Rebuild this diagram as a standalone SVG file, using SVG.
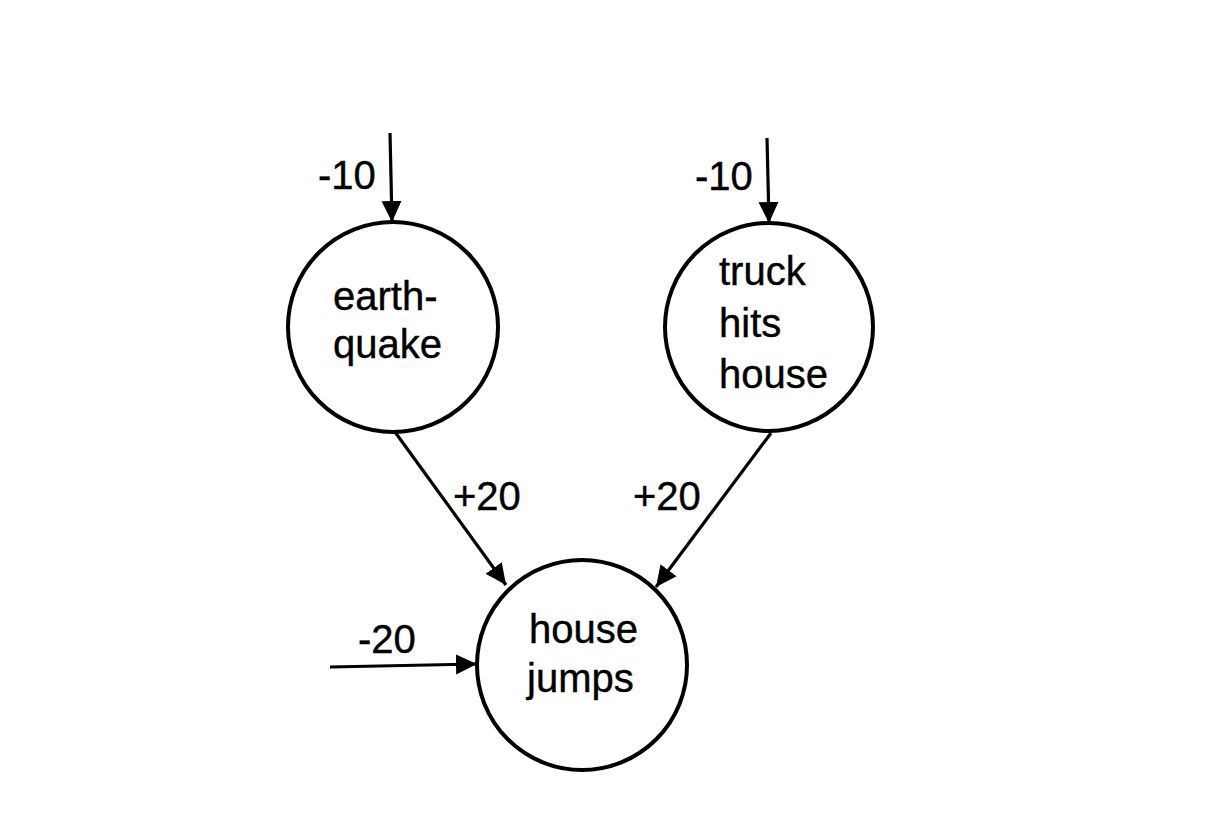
<svg xmlns="http://www.w3.org/2000/svg" width="1210" height="826" viewBox="0 0 1210 826">
<style>
.node{fill:#fff;stroke:#000;stroke-width:4}
.lbl{font-family:"Liberation Sans",Arial,sans-serif;font-size:40px;fill:#000;stroke:#000;stroke-width:0.4}
.edge{stroke:#000;stroke-width:3.2;fill:none;marker-end:url(#arr)}
</style>
<defs>
<marker id="arr" markerUnits="userSpaceOnUse" markerWidth="22" markerHeight="22" refX="21" refY="10" orient="auto" viewBox="0 0 22 20">
<path d="M0,0 L21,10 L0,20 z" fill="#000"/>
</marker>
</defs>
<rect width="1210" height="826" fill="#fff"/>
<g id="connectors">
<line class="edge" x1="390" y1="133" x2="392" y2="222"/>
<line class="edge" x1="767" y1="138" x2="769" y2="223"/>
<line class="edge" x1="395" y1="432" x2="506" y2="585"/>
<line class="edge" x1="771" y1="433" x2="656" y2="587"/>
<line class="edge" x1="330" y1="667" x2="477" y2="664"/>
<text class="lbl" x="318" y="189">-10</text>
<text class="lbl" x="695" y="190">-10</text>
<text class="lbl" x="453" y="510">+20</text>
<text class="lbl" x="633" y="510">+20</text>
<text class="lbl" x="358" y="653">-20</text>
</g>
<g id="earthquake">
<circle class="node" cx="393" cy="327" r="105"/>
<text class="lbl" x="333" y="310">earth-</text>
<text class="lbl" x="333" y="358">quake</text>
</g>
<g id="truck">
<circle class="node" cx="769" cy="327" r="104"/>
<text class="lbl" x="719" y="285">truck</text>
<text class="lbl" x="719" y="337">hits</text>
<text class="lbl" x="719" y="388">house</text>
</g>
<g id="housejumps">
<circle class="node" cx="582" cy="665" r="105"/>
<text class="lbl" x="529" y="643">house</text>
<text class="lbl" x="527" y="692">jumps</text>
</g>
</svg>
